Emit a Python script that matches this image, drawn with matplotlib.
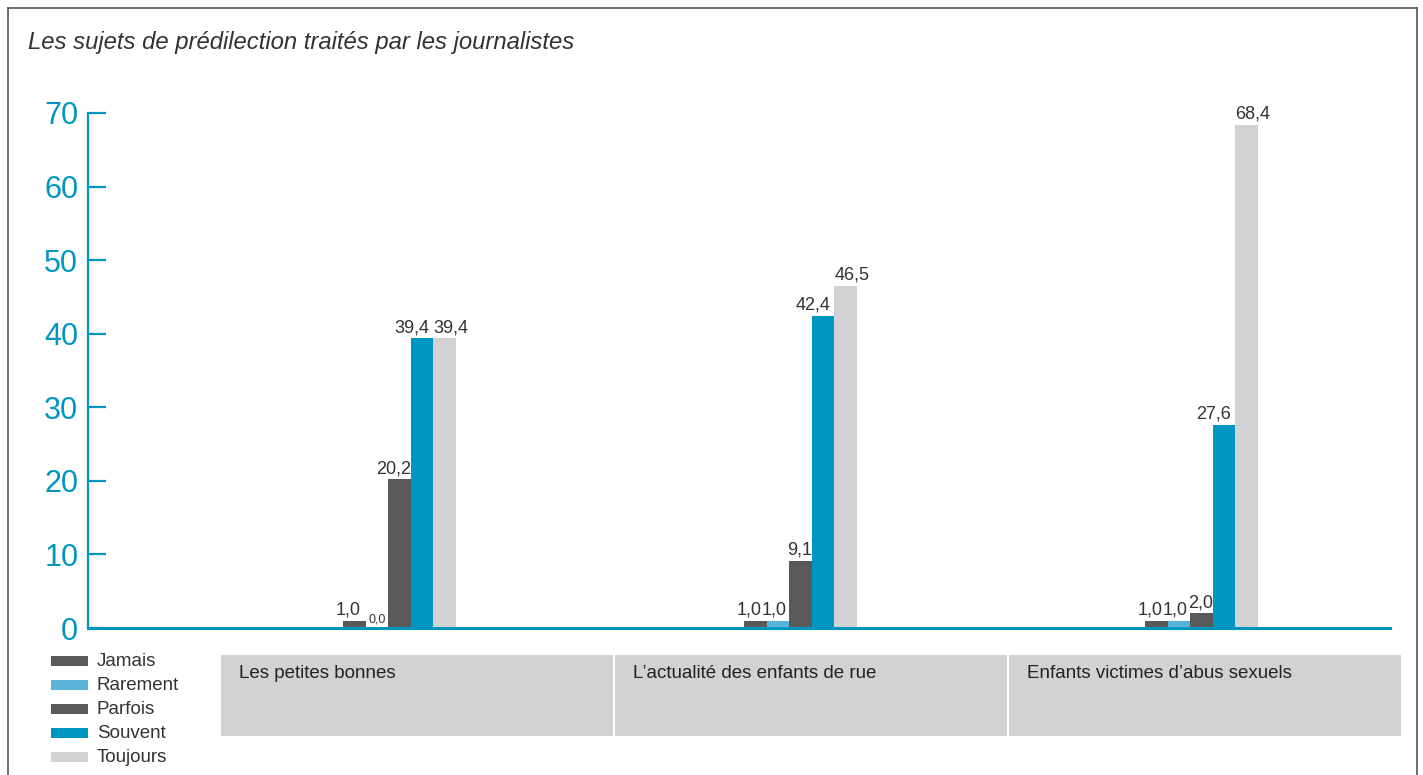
import matplotlib
matplotlib.use("Agg")
import matplotlib.pyplot as plt
from matplotlib.patches import Rectangle
from matplotlib.lines import Line2D
import numpy as np

plt.rcParams['font.family'] = ['Liberation Sans', 'DejaVu Sans']

# data
categories = ["Les petites bonnes", "L\u2019actualit\u00e9 des enfants de rue", "Enfants victimes d\u2019abus sexuels"]
series = ["Jamais", "Rarement", "Parfois", "Souvent", "Toujours"]
jamais = [1.0, 1.0, 1.0]
rarement = [0.0, 1.0, 1.0]
parfois = [20.2, 9.1, 2.0]
souvent = [39.4, 42.4, 27.6]
toujours = [39.4, 46.5, 68.4]
colors = ["#58595b", "#5ab4d9", "#58595b", "#0096c4", "#d1d2d4"]
yticks = [0, 10, 20, 30, 40, 50, 60, 70]
title = "Les sujets de pr\u00e9dilection trait\u00e9s par les journalistes"

W, H = 1423, 775
fig = plt.figure(figsize=(W / 100, H / 100), dpi=100)

def fx(px):
    return px / W

def fy(py):
    return 1 - py / H

blue = "#0096c4"
ax = fig.add_axes([fx(88), fy(628), fx(1390) - fx(88), fy(113) - fy(628)])

x = np.arange(len(categories))
bw = 0.056
values = [jamais, rarement, parfois, souvent, toujours]
# horizontal nudge of the value labels (points)
nudge = [-4, -2, 0, -3, 0]
for i, (name, vals, c) in enumerate(zip(series, values, colors)):
    pos = x + (i - 2) * bw
    ax.bar(pos, vals, width=bw, color=c, label=name, zorder=2)
    for p, v in zip(pos, vals):
        lbl = f"{v:.1f}".replace(".", ",")
        if v == 0:
            ax.annotate(lbl, (p, v), xytext=(0, 1.5), textcoords="offset points",
                        ha="center", va="bottom", color="#333333", fontsize=9)
        elif i == len(series) - 1:
            ax.annotate(lbl, (p - bw / 2, v), xytext=(nudge[i], 1.5), textcoords="offset points",
                        ha="left", va="bottom", color="#333333", fontsize=13)
        else:
            ax.annotate(lbl, (p + bw / 2, v), xytext=(nudge[i], 1.5), textcoords="offset points",
                        ha="right", va="bottom", color="#333333", fontsize=13)

ax.set_xlim(-0.777, 2.47)
ax.set_ylim(0, 70)
ax.set_yticks(yticks)
ax.set_xticks([])
for s in ["top", "right"]:
    ax.spines[s].set_visible(False)
ax.spines["left"].set_color(blue)
ax.spines["left"].set_linewidth(1.6)
ax.spines["bottom"].set_color(blue)
ax.spines["bottom"].set_linewidth(2.2)
ax.spines["bottom"].set_zorder(3)
ax.tick_params(axis="y", direction="in", length=13, width=1.6, color=blue,
               labelcolor=blue, labelsize=22, pad=7)
ax.patch.set_visible(False)

# title
fig.text(fx(28), fy(42), title, fontsize=17.2, style="italic", color="#333333",
         ha="left", va="center")

# category boxes
box_left, box_w, gap = 221, 392, 2
for i, cat in enumerate(categories):
    x0 = box_left + i * (box_w + gap)
    fig.add_artist(Rectangle((fx(x0), fy(736)), fx(box_w), fy(655) - fy(736),
                             transform=fig.transFigure, facecolor="#d1d2d4",
                             edgecolor="none"))
    fig.text(fx(x0 + 18), fy(674), cat, fontsize=13.5, color="#222222",
             ha="left", va="center")

# legend
for i, (name, c) in enumerate(zip(series, colors)):
    yc = 661 + i * 24
    fig.add_artist(Rectangle((fx(51), fy(yc + 5)), fx(37), fy(yc - 5) - fy(yc + 5),
                             transform=fig.transFigure, facecolor=c, edgecolor="none"))
    fig.text(fx(97), fy(yc), name, fontsize=13.5, color="#333333", ha="left", va="center")

# outer frame
frame = "#555555"
fig.add_artist(Line2D([fx(8), fx(8)], [0, fy(8)], color=frame, lw=1.2, transform=fig.transFigure))
fig.add_artist(Line2D([fx(8), fx(1417)], [fy(8), fy(8)], color=frame, lw=1.2, transform=fig.transFigure))
fig.add_artist(Line2D([fx(1417), fx(1417)], [0, fy(8)], color=frame, lw=1.2, transform=fig.transFigure))

fig.savefig("out.png", dpi=100)
